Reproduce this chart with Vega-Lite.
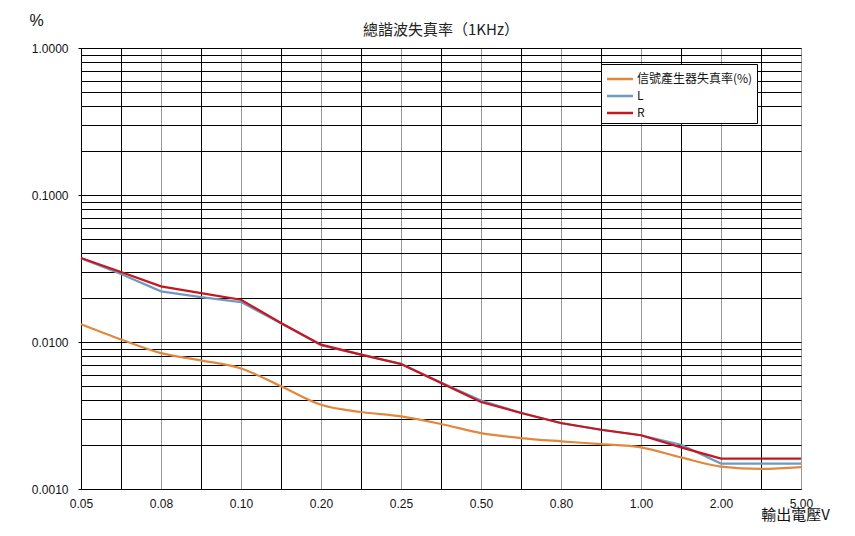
{
  "$schema": "https://vega.github.io/schema/vega-lite/v6.json",
  "width": 720,
  "height": 441,
  "autosize": {"type": "none"},
  "padding": {"left": 81, "top": 48, "right": 54, "bottom": 47},
  "background": "white",
  "title": {
    "text": "總諧波失真率（1KHz）",
    "font": "Noto Sans CJK TC",
    "fontSize": 15,
    "fontWeight": "normal",
    "color": "#222222",
    "anchor": "middle",
    "frame": "group",
    "offset": 10,
    "dy": 36
  },
  "config": {
    "view": {"stroke": "black", "strokeWidth": 1},
    "font": "Liberation Sans"
  },
  "data": {
    "values": [
      {"n": 0, "s": "信號產生器失真率(%)", "v": 0.0132},
      {"n": 1, "s": "信號產生器失真率(%)", "v": 0.0104},
      {"n": 2, "s": "信號產生器失真率(%)", "v": 0.0084},
      {"n": 3, "s": "信號產生器失真率(%)", "v": 0.0075},
      {"n": 4, "s": "信號產生器失真率(%)", "v": 0.0066},
      {"n": 5, "s": "信號產生器失真率(%)", "v": 0.0050},
      {"n": 6, "s": "信號產生器失真率(%)", "v": 0.00374},
      {"n": 7, "s": "信號產生器失真率(%)", "v": 0.00334},
      {"n": 8, "s": "信號產生器失真率(%)", "v": 0.00312},
      {"n": 9, "s": "信號產生器失真率(%)", "v": 0.00277},
      {"n": 10, "s": "信號產生器失真率(%)", "v": 0.0024},
      {"n": 11, "s": "信號產生器失真率(%)", "v": 0.00222},
      {"n": 12, "s": "信號產生器失真率(%)", "v": 0.00211},
      {"n": 13, "s": "信號產生器失真率(%)", "v": 0.00202},
      {"n": 14, "s": "信號產生器失真率(%)", "v": 0.00192},
      {"n": 15, "s": "信號產生器失真率(%)", "v": 0.00164},
      {"n": 16, "s": "信號產生器失真率(%)", "v": 0.00142},
      {"n": 17, "s": "信號產生器失真率(%)", "v": 0.00137},
      {"n": 18, "s": "信號產生器失真率(%)", "v": 0.00141},
      {"n": 0, "s": "L", "v": 0.0372},
      {"n": 1, "s": "L", "v": 0.0290},
      {"n": 2, "s": "L", "v": 0.0221},
      {"n": 3, "s": "L", "v": 0.0202},
      {"n": 4, "s": "L", "v": 0.0187},
      {"n": 5, "s": "L", "v": 0.0134},
      {"n": 6, "s": "L", "v": 0.0095},
      {"n": 7, "s": "L", "v": 0.0082},
      {"n": 8, "s": "L", "v": 0.0071},
      {"n": 9, "s": "L", "v": 0.0053},
      {"n": 10, "s": "L", "v": 0.0040},
      {"n": 11, "s": "L", "v": 0.0033},
      {"n": 12, "s": "L", "v": 0.0028},
      {"n": 13, "s": "L", "v": 0.00253},
      {"n": 14, "s": "L", "v": 0.00232},
      {"n": 15, "s": "L", "v": 0.0020},
      {"n": 16, "s": "L", "v": 0.00149},
      {"n": 17, "s": "L", "v": 0.00149},
      {"n": 18, "s": "L", "v": 0.00149},
      {"n": 0, "s": "R", "v": 0.0373},
      {"n": 1, "s": "R", "v": 0.0299},
      {"n": 2, "s": "R", "v": 0.0239},
      {"n": 3, "s": "R", "v": 0.0215},
      {"n": 4, "s": "R", "v": 0.0194},
      {"n": 5, "s": "R", "v": 0.01346},
      {"n": 6, "s": "R", "v": 0.0096},
      {"n": 7, "s": "R", "v": 0.0082},
      {"n": 8, "s": "R", "v": 0.00708},
      {"n": 9, "s": "R", "v": 0.00526},
      {"n": 10, "s": "R", "v": 0.00391},
      {"n": 11, "s": "R", "v": 0.00329},
      {"n": 12, "s": "R", "v": 0.00281},
      {"n": 13, "s": "R", "v": 0.00253},
      {"n": 14, "s": "R", "v": 0.00232},
      {"n": 15, "s": "R", "v": 0.00192},
      {"n": 16, "s": "R", "v": 0.00161},
      {"n": 17, "s": "R", "v": 0.00161},
      {"n": 18, "s": "R", "v": 0.00161}
    ]
  },
  "encoding": {
    "x": {
      "field": "n",
      "type": "quantitative",
      "scale": {"domain": [0, 18], "nice": false, "zero": false},
      "axis": {
        "values": [0,1,2,3,4,5,6,7,8,9,10,11,12,13,14,15,16,17,18],
        "labelExpr": "datum.value % 2 == 0 ? ['0.05','0.08','0.10','0.20','0.25','0.50','0.80','1.00','2.00','5.00'][datum.value / 2] : ''",
        "labelFont": "Liberation Sans",
        "labelFontSize": 12,
        "labelColor": "#111111",
        "labelPadding": 9,
        "labelFlush": false,
        "labelOverlap": false,
        "ticks": false,
        "domainColor": "black",
        "grid": true,
        "gridColor": {"condition": {"test": "datum.value % 2 == 0", "value": "#9a9a9a"}, "value": "black"},
        "gridWidth": 1,
        "gridOpacity": 1,
        "title": "輸出電壓V",
        "titleFont": "Noto Sans CJK TC",
        "titleFontSize": 15,
        "titleFontWeight": "normal",
        "titleColor": "#111111",
        "titleX": 714,
        "titleY": 25,
        "titleAlign": "center",
        "titleBaseline": "middle"
      }
    },
    "y": {
      "field": "v",
      "type": "quantitative",
      "scale": {"type": "log", "domain": [0.001, 1], "nice": false},
      "axis": {
        "values": [0.001,0.002,0.003,0.004,0.005,0.006,0.007,0.008,0.009,0.01,0.02,0.03,0.04,0.05,0.06,0.07,0.08,0.09,0.1,0.2,0.3,0.4,0.5,0.6,0.7,0.8,0.9,1],
        "labelExpr": "(datum.value == 0.001 || datum.value == 0.01 || datum.value == 0.1 || datum.value == 1) ? format(datum.value, '.4f') : ''",
        "labelFont": "Liberation Sans",
        "labelFontSize": 12,
        "labelColor": "#111111",
        "labelPadding": 10,
        "labelOverlap": false,
        "labelFlush": false,
        "tickSize": 3,
        "tickColor": {"condition": {"test": "datum.value == 0.001 || datum.value == 0.01 || datum.value == 0.1 || datum.value == 1", "value": "black"}, "value": "transparent"},
        "domainColor": "black",
        "grid": true,
        "gridColor": "black",
        "gridWidth": 1,
        "gridOpacity": 1,
        "title": "%",
        "titleFont": "Liberation Sans",
        "titleFontSize": 16,
        "titleFontWeight": "normal",
        "titleColor": "#111111",
        "titleAngle": 0,
        "titleX": -45,
        "titleY": -28,
        "titleAlign": "center",
        "titleBaseline": "middle"
      }
    },
    "color": {
      "field": "s",
      "type": "nominal",
      "scale": {
        "domain": ["信號產生器失真率(%)", "L", "R"],
        "range": ["#E2883C", "#6F9AC0", "#C8161F"]
      },
      "legend": {
        "title": null,
        "orient": "none",
        "legendX": 520,
        "legendY": 16,
        "symbolType": "M-1.37,0H1.37",
        "symbolSize": 361,
        "symbolOffset": 4,
        "symbolStrokeWidth": 2.5,
        "labelFont": "Noto Sans CJK TC",
        "labelFontSize": 12,
        "labelColor": "#111111",
        "labelOffset": 6,
        "rowPadding": 0,
        "padding": 4,
        "strokeColor": "black",
        "fillColor": "white",
        "labelLimit": 200
      }
    }
  },
  "layer": [
    {
      "transform": [{"filter": "datum.s == '信號產生器失真率(%)'"}],
      "mark": {"type": "line", "interpolate": "monotone", "strokeWidth": 2.2}
    },
    {
      "transform": [{"filter": "datum.s == 'L'"}],
      "mark": {"type": "line", "strokeWidth": 2.2}
    },
    {
      "transform": [{"filter": "datum.s == 'R'"}],
      "mark": {"type": "line", "strokeWidth": 2.2}
    }
  ]
}
